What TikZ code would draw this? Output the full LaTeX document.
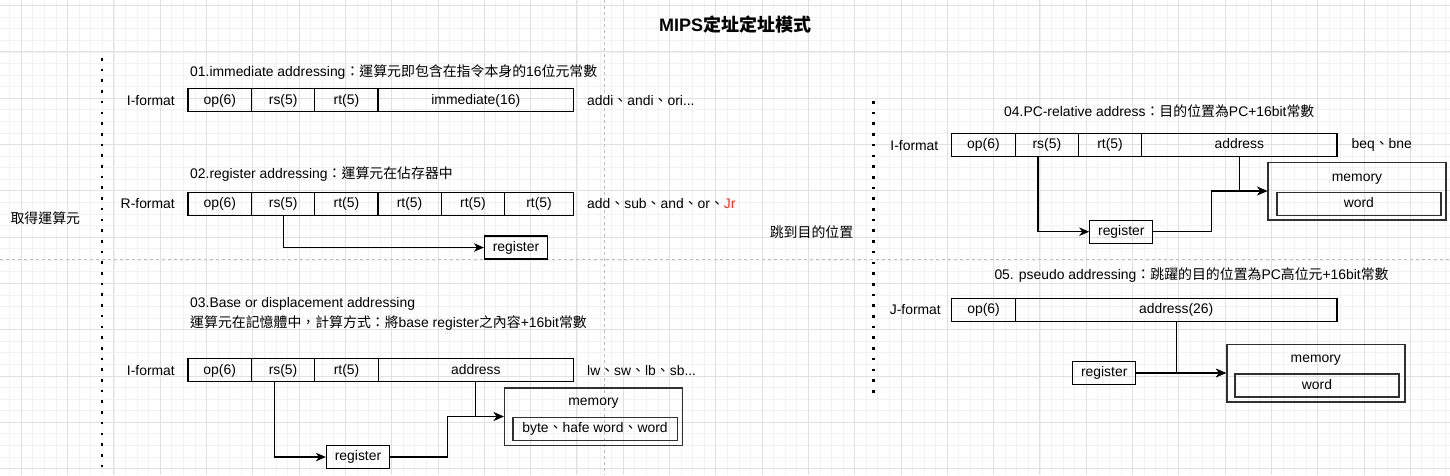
\documentclass[tikz,border=0pt]{standalone}
\usepackage{fontspec}
\setmainfont{Liberation Sans}
\newfontfamily\zh{Noto Sans CJK TC}
\newcommand\Z[1]{{\zh #1}}
\usetikzlibrary{arrows.meta}
\definecolor{gridminor}{HTML}{F2F2F2}
\definecolor{gridmajor}{HTML}{E0E0E0}
\definecolor{pagebreak}{HTML}{BDBDBD}
\definecolor{jrred}{HTML}{FF2A1A}
\definecolor{membord}{HTML}{303030}
\begin{document}
\begin{tikzpicture}[x=1pt,y=-1pt,
  every node/.style={font=\fontsize{13.9pt}{16pt}\selectfont, inner sep=0pt},
  cell/.style={draw, line width=1.2pt, minimum height=23pt, text height=10.5pt, text depth=3pt},
  txt/.style={anchor=west},
  regbox/.style={draw, line width=1.2pt, minimum width=63pt, minimum height=23pt, text height=10.5pt, text depth=3pt},
  membox/.style={draw=membord, line width=1.5pt, minimum width=178pt, minimum height=57.5pt},
  innerbox/.style={draw=membord, line width=1.5pt, minimum height=23pt, text height=10.5pt, text depth=3pt},
  link/.style={line width=1.2pt},
  arrowlink/.style={line width=1.2pt, -{Stealth[length=10pt,width=8.5pt,inset=3pt]}},
  dotline/.style={line width=2.6pt, dash pattern=on 2.6pt off 8.1pt},
  pbreak/.style={pagebreak, line width=0.9pt, dash pattern=on 3pt off 3pt},
  minorgrid/.style={gridminor, line width=0.8pt},
  majorgrid/.style={gridmajor, line width=0.9pt}]
\useasboundingbox (0,0) rectangle (1450,475);
\fill[white] (0,0) rectangle (1450,475);
% background grid
\begin{scope}
\clip (0,0) rectangle (1450,475);
\foreach \i in {-1,...,124} \draw[minorgrid] ({21.3+11.575*\i},0) -- ({21.3+11.575*\i},475);
\foreach \j in {0,...,41} \draw[minorgrid] (0,{5.6+11.575*\j}) -- (1450,{5.6+11.575*\j});
\foreach \i in {0,...,31} \draw[majorgrid] ({21.3+46.3*\i},0) -- ({21.3+46.3*\i},475);
\foreach \j in {0,...,10} \draw[majorgrid] (0,{5.6+46.3*\j}) -- (1450,{5.6+46.3*\j});
\end{scope}
% page breaks
\draw[pbreak] (604.5,0) -- (604.5,475);
\draw[pbreak] (0,259.5) -- (1450,259.5);
% dotted separators
\coordinate (dl1) at (102,58);
\coordinate (dl2) at (102,468);
\coordinate (dr1) at (873.5,101);
\coordinate (dr2) at (873.5,399);
\draw[dotline] (dl1) -- (dl2);
\draw[dotline] (dr1) -- (dr2);

% title
\node (title) at (735,25) {\fontsize{18pt}{20pt}\selectfont\bfseries MIPS\Z{定址定址模式}};
\node (lab1) at (45.3,218) {\Z{取得運算元}};
\node (lab2) at (811.5,231.7) {\Z{跳到目的位置}};

% ---------- 01 immediate ----------
\node[txt] (t1) at (190,72) {01.immediate addressing\Z{：運算元即包含在指令本身的}16\Z{位元常數}};
\node[anchor=east] (f1) at (175,100.3) {I-format};
\node[cell, minimum width=63.6pt] (op1) at (219.8,100.3) {op(6)};
\node[cell, minimum width=63.2pt] (rs1) at (283.2,100.3) {rs(5)};
\node[cell, minimum width=63.2pt] (rt1) at (346.4,100.3) {rt(5)};
\node[cell, minimum width=195.5pt] (imm1) at (475.75,100.3) {immediate(16)};
\node[txt] (e1) at (587,100.3) {addi\Z{、}andi\Z{、}ori...};

% ---------- 02 register ----------
\node[txt] (t2) at (190,174.3) {02.register addressing\Z{：運算元在佔存器中}};
\node[anchor=east] (f2) at (175,203.6) {R-format};
\node[cell, minimum width=63.6pt] (op2) at (219.8,203.6) {op(6)};
\node[cell, minimum width=63.2pt] (rs2) at (283.2,203.6) {rs(5)};
\node[cell, minimum width=63.2pt] (rt2a) at (346.4,203.6) {rt(5)};
\node[cell, minimum width=63.2pt] (rt2b) at (409.6,203.6) {rt(5)};
\node[cell, minimum width=63.4pt] (rt2c) at (472.9,203.6) {rt(5)};
\node[cell, minimum width=68.9pt] (rt2d) at (539.05,203.6) {rt(5)};
\node[txt] (e2) at (587,203.6) {add\Z{、}sub\Z{、}and\Z{、}or\Z{、}\textcolor{jrred}{Jr}};
\node[regbox] (reg2) at (516,247.5) {register};
\draw[arrowlink] (rs2.south) |- (reg2.west);

% ---------- 03 base ----------
\node[txt] (t3a) at (190,304.3) {03.Base or displacement addressing};
\node[txt] (t3b) at (190,323.3) {\Z{運算元在記憶體中，計算方式：將}base register\Z{之內容}+16bit\Z{常數}};
\node[anchor=east] (f3) at (175,370.3) {I-format};
\node[cell, minimum width=63.4pt] (op3) at (219.7,370.3) {op(6)};
\node[cell, minimum width=63.3pt] (rs3) at (283.05,370.3) {rs(5)};
\node[cell, minimum width=63.7pt] (rt3) at (346.55,370.3) {rt(5)};
\node[cell, minimum width=194.9pt] (addr3) at (475.85,370.3) {address};
\node[txt] (e3) at (587,370.3) {lw\Z{、}sw\Z{、}lb\Z{、}sb...};
\node[membox] (mem3) at (593.5,416.5) {};
\node (mem3t) at (593.5,403.3) {memory};
\node[innerbox, minimum width=164.5pt] (mem3i) at (595,429) {byte\Z{、}hafe word\Z{、}word};
\node[regbox] (reg3) at (358,457) {register};
\draw[arrowlink] ([xshift=-8.6pt]rs3.south) |- (reg3.west);
\draw[arrowlink] (addr3.south) |- (mem3.west);
\draw[arrowlink] (reg3.east) -- ++(57.4,0) |- (mem3.west);

% ---------- 04 PC-relative ----------
\node[txt] (t4) at (1004,110.7) {04.PC-relative address\Z{：目的位置為}PC+16bit\Z{常數}};
\node[anchor=east] (f4) at (938.5,145.2) {I-format};
\node[cell, minimum width=63.9pt] (op4) at (983.45,145.2) {op(6)};
\node[cell, minimum width=62.9pt] (rs4) at (1046.85,145.2) {rs(5)};
\node[cell, minimum width=63.4pt] (rt4) at (1110,145.2) {rt(5)};
\node[cell, minimum width=195.3pt] (addr4) at (1239.35,145.2) {address};
\node[txt] (e4) at (1351.4,145.2) {beq\Z{、}bne};
\node[membox] (mem4) at (1357,191) {};
\node (mem4t) at (1357,178.7) {memory};
\node[innerbox, minimum width=164.3pt] (mem4i) at (1358.9,204) {word};
\node[regbox] (reg4) at (1121.3,231.7) {register};
\draw[arrowlink] ([xshift=-8.9pt]rs4.south) |- (reg4.west);
\draw[arrowlink] (addr4.south) |- (mem4.west);
\draw[arrowlink] (reg4.east) -- ++(57.7,0) |- (mem4.west);

% ---------- 05 pseudo ----------
\node[txt] (t5) at (994.3,275) {05. pseudo addressing\Z{：跳躍的目的位置為}PC\Z{高位元}+16bit\Z{常數}};
\node[anchor=east] (f5) at (941,309.8) {J-format};
\node[cell, minimum width=63.6pt] (op5) at (983.6,309.8) {op(6)};
\node[cell, minimum width=321.6pt] (addr5) at (1176.2,309.8) {address(26)};
\node[membox] (mem5) at (1315.8,373) {};
\node (mem5t) at (1315.8,360.3) {memory};
\node[innerbox, minimum width=164pt] (mem5i) at (1317,385.3) {word};
\node[regbox] (reg5) at (1104.2,373) {register};
\draw[arrowlink] (addr5.south) |- (mem5.west);
\draw[arrowlink] (reg5.east) -- (mem5.west);
\end{tikzpicture}
\end{document}
